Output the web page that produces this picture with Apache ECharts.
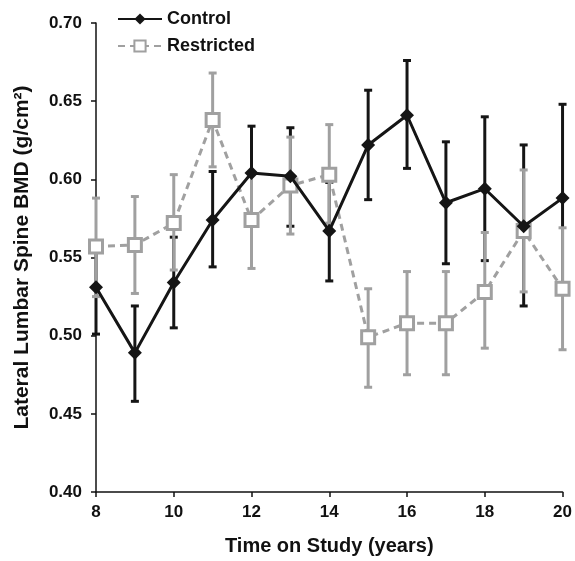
<!DOCTYPE html>
<html>
<head>
<meta charset="utf-8">
<script src="https://cdn.jsdelivr.net/npm/echarts@6/dist/echarts.min.js"></script>
<style>
  html, body { margin: 0; padding: 0; background: #fff; }
  #chart { width: 575px; height: 561px; }
</style>
</head>
<body>
<div id="chart"></div>
<script>
const years = [8, 9, 10, 11, 12, 13, 14, 15, 16, 17, 18, 19, 20]

const controlMean = [0.531, 0.489, 0.534, 0.574, 0.604, 0.602, 0.567, 0.622, 0.641, 0.585, 0.594, 0.570, 0.588]
const controlLow  = [0.501, 0.458, 0.505, 0.544, 0.574, 0.570, 0.535, 0.587, 0.607, 0.546, 0.548, 0.519, 0.528]
const controlHigh = [0.560, 0.519, 0.563, 0.605, 0.634, 0.633, 0.598, 0.657, 0.676, 0.624, 0.640, 0.622, 0.648]

const restrictedMean = [0.557, 0.558, 0.572, 0.638, 0.574, 0.596, 0.603, 0.499, 0.508, 0.508, 0.528, 0.567, 0.530]
const restrictedLow  = [0.525, 0.527, 0.542, 0.608, 0.543, 0.565, 0.572, 0.467, 0.475, 0.475, 0.492, 0.528, 0.491]
const restrictedHigh = [0.588, 0.589, 0.603, 0.668, 0.604, 0.627, 0.635, 0.530, 0.541, 0.541, 0.566, 0.606, 0.569]

const black = '#151515'
const gray = '#a0a0a0'
const fontFamily = '"Liberation Sans", Arial, sans-serif'

function errorSeries(name, low, high, color) {
  return {
    name: name,
    type: 'custom',
    silent: true,
    data: years.map((x, i) => [x, low[i], high[i]]),
    renderItem: function (params, api) {
      const top = api.coord([api.value(0), api.value(2)])
      const bottom = api.coord([api.value(0), api.value(1)])
      const half = 4
      const style = {stroke: color, lineWidth: 3}
      return {
        type: 'group',
        children: [
          {type: 'line', shape: {x1: top[0], y1: top[1], x2: bottom[0], y2: bottom[1]}, style: style},
          {type: 'line', shape: {x1: top[0] - half, y1: top[1], x2: top[0] + half, y2: top[1]}, style: style},
          {type: 'line', shape: {x1: bottom[0] - half, y1: bottom[1], x2: bottom[0] + half, y2: bottom[1]}, style: style}
        ]
      }
    },
    z: 1
  }
}

const chart = echarts.init(document.getElementById('chart'), null, {renderer: 'canvas'})

const option = {
  animation: false,
  textStyle: {fontFamily: fontFamily},
  grid: {left: 96, right: 11, top: 23, bottom: 65},
  legend: {
    left: 112,
    top: 5,
    orient: 'vertical',
    itemGap: 9,
    itemWidth: 44,
    itemHeight: 14,
    textStyle: {fontFamily: fontFamily, fontWeight: 'bold', fontSize: 18, color: '#111'},
    data: ['Control', 'Restricted']
  },
  xAxis: {
    type: 'value',
    min: 8,
    max: 20,
    interval: 2,
    name: 'Time on Study (years)',
    nameLocation: 'middle',
    nameGap: 44,
    nameTextStyle: {fontFamily: fontFamily, fontWeight: 'bold', fontSize: 20, color: '#111'},
    axisLine: {lineStyle: {color: '#111', width: 1.5}},
    axisTick: {length: 5, lineStyle: {color: '#111', width: 1.5}},
    axisLabel: {fontFamily: fontFamily, fontWeight: 'bold', fontSize: 17, color: '#111', margin: 12},
    splitLine: {show: false}
  },
  yAxis: {
    type: 'value',
    min: 0.40,
    max: 0.70,
    interval: 0.05,
    name: 'Lateral Lumbar Spine BMD (g/cm²)',
    nameLocation: 'middle',
    nameGap: 63,
    nameTextStyle: {fontFamily: fontFamily, fontWeight: 'bold', fontSize: 21, color: '#111'},
    axisLine: {show: true, lineStyle: {color: '#111', width: 1.5}},
    axisTick: {show: true, length: 5, lineStyle: {color: '#111', width: 1.5}},
    axisLabel: {
      fontFamily: fontFamily, fontWeight: 'bold', fontSize: 17, color: '#111', margin: 14,
      formatter: v => v.toFixed(2)
    },
    splitLine: {show: false}
  },
  series: [
    errorSeries('Control err', controlLow, controlHigh, black),
    errorSeries('Restricted err', restrictedLow, restrictedHigh, gray),
    {
      name: 'Restricted',
      type: 'line',
      data: years.map((x, i) => [x, restrictedMean[i]]),
      symbol: 'rect',
      symbolSize: 13,
      itemStyle: {color: '#fff', borderColor: gray, borderWidth: 3},
      lineStyle: {color: gray, width: 3, type: [7, 5]},
      z: 3
    },
    {
      name: 'Control',
      type: 'line',
      data: years.map((x, i) => [x, controlMean[i]]),
      symbol: 'diamond',
      symbolSize: 14,
      itemStyle: {color: black},
      lineStyle: {color: black, width: 3},
      z: 4
    }
  ]
}

chart.setOption(option)
</script>
</body>
</html>
